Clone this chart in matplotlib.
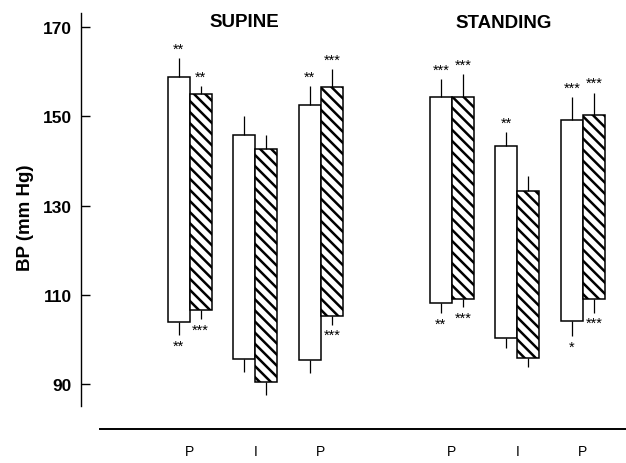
import matplotlib
matplotlib.use("Agg")
import matplotlib.pyplot as plt
import numpy as np

plt.rcParams['font.family'] = ['Liberation Sans', 'DejaVu Sans']
plt.rcParams['hatch.linewidth'] = 1.8

# group positions on x (gap between supine and standing)
positions = [0, 1, 2, 4, 5, 6]
group_labels = ['P', 'I', 'P', 'P', 'I', 'P']

# white bars: systolic (top) / diastolic (bottom) with SEM
white_top = [158.8, 145.8, 152.6, 154.3, 143.3, 149.1]
white_top_err = [4.2, 4.2, 4.1, 4.0, 3.2, 5.2]
white_bot = [103.9, 95.6, 95.4, 108.1, 100.2, 104.2]
white_bot_err = [2.9, 2.8, 3.0, 2.2, 2.2, 3.4]

# hatched bars
hatch_top = [154.9, 142.7, 156.6, 154.4, 133.2, 150.2]
hatch_top_err = [1.8, 3.0, 3.9, 5.0, 3.5, 5.1]
hatch_bot = [106.6, 90.4, 105.3, 109.0, 95.8, 109.0]
hatch_bot_err = [2.1, 2.9, 2.0, 1.8, 1.9, 3.0]

# significance marks
white_top_sig = ['**', '', '**', '***', '**', '***']
hatch_top_sig = ['**', '', '***', '***', '', '***']
white_bot_sig = ['**', '', '', '**', '', '*']
hatch_bot_sig = ['***', '', '***', '***', '', '***']

yticks = [90, 110, 130, 150, 170]

w = 0.336
pos = np.array(positions, dtype=float)
xw = pos - w / 2
xh = pos + w / 2

fig = plt.figure(figsize=(6.26, 4.64), dpi=100)
ax = fig.add_axes([81 / 626, 57 / 464, 545 / 626, 393 / 464])

wt, wb = np.array(white_top), np.array(white_bot)
ht, hb = np.array(hatch_top), np.array(hatch_bot)

ax.bar(xw, wt - wb, bottom=wb, width=w, color='white', edgecolor='black', linewidth=1.1)
ax.bar(xh, ht - hb, bottom=hb, width=w, color='white', edgecolor='black', linewidth=1.1,
       hatch='\\\\\\')

# error bars (one-sided, no caps)
ax.vlines(xw, wt, wt + np.array(white_top_err), color='black', lw=0.9)
ax.vlines(xw, wb - np.array(white_bot_err), wb, color='black', lw=0.9)
ax.vlines(xh, ht, ht + np.array(hatch_top_err), color='black', lw=0.9)
ax.vlines(xh, hb - np.array(hatch_bot_err), hb, color='black', lw=0.9)

for i in range(len(positions)):
    for x, y, s, dy in [(xw[i], wt[i] + white_top_err[i], white_top_sig[i], 4.0),
                        (xh[i], ht[i] + hatch_top_err[i], hatch_top_sig[i], 4.0),
                        (xw[i], wb[i] - white_bot_err[i], white_bot_sig[i], -10.5),
                        (xh[i], hb[i] - hatch_bot_err[i], hatch_bot_sig[i], -10.5)]:
        if s:
            ax.annotate(s, (x, y), xytext=(0, dy), textcoords='offset points',
                        ha='center', va='baseline', fontsize=10.5)

ax.text(0.84, 171.3, 'SUPINE', ha='center', va='center', fontsize=13.5, fontweight='bold')
ax.text(4.79, 170.9, 'STANDING', ha='center', va='center', fontsize=13.5, fontweight='bold')

ax.set_xlim(-1.657, 6.656)
ax.set_ylim(85.07, 173.14)
ax.set_yticks(yticks)
ax.set_yticklabels([str(t) for t in yticks], fontsize=12.5, fontweight='bold')
ax.tick_params(axis='y', direction='in', length=6.5, width=1, pad=6.5)

ax.set_xticks(positions)
ax.set_xticklabels(group_labels, fontsize=13, fontweight='bold')
ax.tick_params(axis='x', length=0, pad=11)

ax.spines['top'].set_visible(False)
ax.spines['right'].set_visible(False)
ax.spines['left'].set_linewidth(1.0)
ax.spines['bottom'].set_position(('outward', 16.5))
ax.spines['bottom'].set_bounds(-1.368, 6.656)
ax.spines['bottom'].set_linewidth(1.4)

fig.text(25 / 626, 1 - 218 / 464, 'BP (mm Hg)', rotation=90, ha='center', va='center',
         fontsize=13.5, fontweight='bold')

fig.savefig('out.png', dpi=100)
